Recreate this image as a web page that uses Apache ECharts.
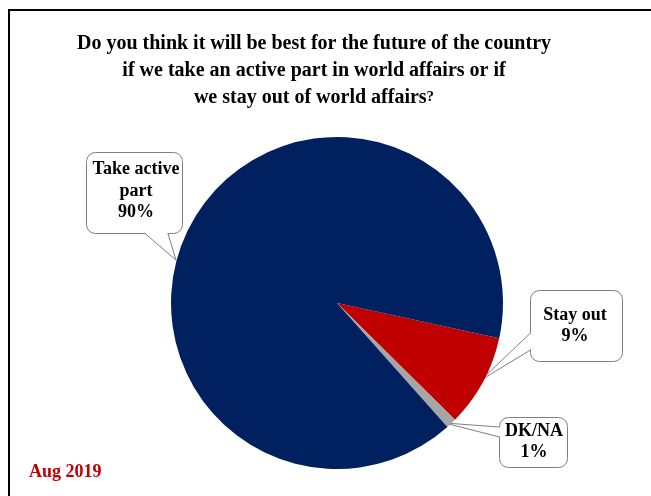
<!DOCTYPE html>
<html>
<head>
<meta charset="utf-8">
<script src="https://cdn.jsdelivr.net/npm/echarts@6/dist/echarts.min.js"></script>
<style>
html,body{margin:0;padding:0;background:#fff;}
#c{width:651px;height:496px;}
</style>
</head>
<body>
<div id="c"></div>
<script>
// ---- data ----
const categories = ['Stay out', 'DK/NA', 'Take active\npart'];
const values = [9, 1, 90];
const colors = ['#c00000', '#a6a6a6', '#002060'];
const titleLines = ['Do you think it will be best for the future of the country',
                    'if we take an active part in world affairs or if',
                    'we stay out of world affairs'];
const dateLabel = 'Aug 2019';

// label bubble centers (annotation layout)
const labelPos = [[575, 326], [534, 442], [136, 191]];

const FONT = "'Liberation Serif', 'Times New Roman', serif";

const chart = echarts.init(document.getElementById('c'), null, {renderer: 'canvas'});

// callout bubble: rounded box + triangular tail
function bubble(box, base1, tip, base2, cover) {
  return [
    {type: 'rect', z: 1, shape: {x: box[0], y: box[1], width: box[2], height: box[3], r: 9},
     style: {fill: '#fff', stroke: '#808080', lineWidth: 1}},
    {type: 'polygon', z: 1, z2: 2, shape: {points: cover},
     style: {fill: '#fff', stroke: null}},
    {type: 'polyline', z: 1, z2: 3, shape: {points: [base1, tip, base2]},
     style: {stroke: '#808080', lineWidth: 1, fill: null}}
  ];
}

const option = {
  backgroundColor: '#fff',
  animation: false,
  graphic: [
    {type: 'polyline', z: 0, shape: {points: [[9, 496], [9, 10], [651, 10]]},
     style: {stroke: '#000', lineWidth: 2, fill: null}},
    {type: 'text', z: 5, x: 314, y: 30,
     style: {
       text: titleLines[0] + '\n' + titleLines[1] + '\n' + titleLines[2] + '{q|?}',
       font: 'bold 20px ' + FONT, fill: '#000', align: 'center', lineHeight: 27,
       rich: {q: {font: 'bold 15px ' + FONT, fill: '#000', lineHeight: 27}}
     }},
    {type: 'text', z: 5, x: 29, y: 472,
     style: {text: dateLabel, font: 'bold 18px ' + FONT, fill: '#c00000', verticalAlign: 'middle'}},
  ].concat(
    bubble([86.5, 152.5, 96, 81], [145, 233.5], [176, 260], [168, 233.5],
           [[145.5, 231], [145.5, 234], [176, 259], [167.5, 234], [167.5, 231]]),
    bubble([530.5, 290.5, 92, 71], [530.5, 333], [481, 380], [530.5, 350],
           [[529, 333.5], [531, 333.5], [531, 349.5], [529, 349.5]]),
    bubble([499.5, 417.5, 68, 50], [499.5, 427], [445, 423], [499.5, 437],
           [[498, 427.5], [501, 427.5], [501, 436.5], [498, 436.5]])
  ),
  series: [{
    type: 'pie',
    center: [337, 303],
    radius: [0, 166],
    startAngle: -12.3,
    clockwise: true,
    avoidLabelOverlap: false,
    z: 2,
    label: {
      show: true,
      position: 'outside',
      formatter: p => p.name + '\n' + p.value + '%',
      fontFamily: FONT, fontWeight: 'bold', fontSize: 18, lineHeight: 21.5,
      color: '#000', align: 'center'
    },
    labelLine: {show: false},
    labelLayout: function (params) {
      const pos = labelPos[params.dataIndex];
      return {x: pos[0], y: pos[1], align: 'center', verticalAlign: 'middle'};
    },
    emphasis: {disabled: true},
    data: categories.map((c, i) => ({name: c, value: values[i], itemStyle: {color: colors[i]}}))
  }]
};
chart.setOption(option);
</script>
</body>
</html>
